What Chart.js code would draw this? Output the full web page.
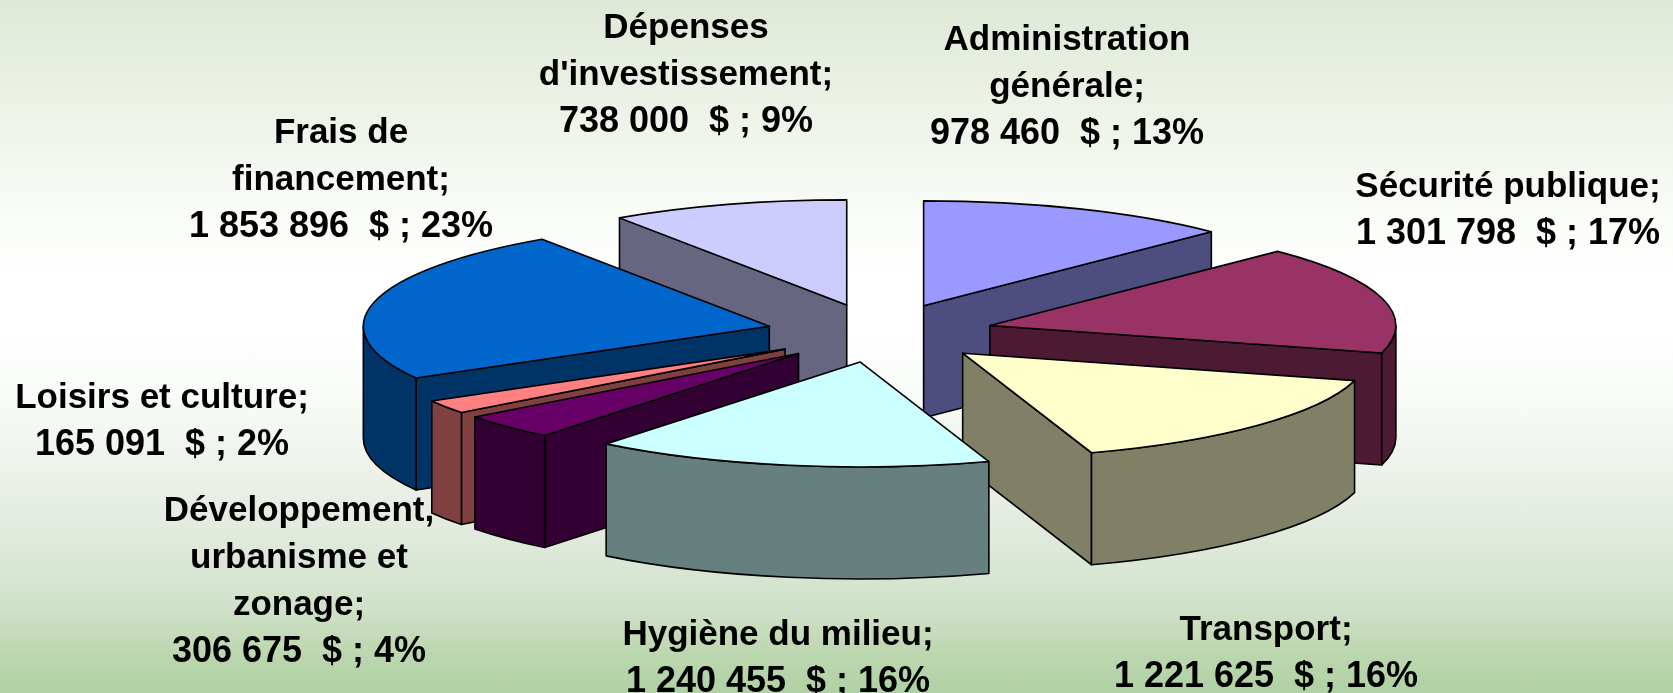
<!DOCTYPE html>
<html lang="fr">
<head>
<meta charset="utf-8">
<title>Dépenses</title>
<script src="https://cdn.jsdelivr.net/npm/chart.js@4"></script>
<style>
    html, body { margin: 0; padding: 0; }
    #wrap {
        width: 1673px; height: 693px;
        background: linear-gradient(to bottom, #dfe9d7 0%, #fbfdf9 33%, #ffffff 40%, #ffffff 48%, #f7fbf6 58%, #eaf0e8 70%, #dde8d8 80%, #cfe1c8 88%, #bdd7b0 94%, #afd1a3 100%);
    }
    canvas { display: block; }
</style>
</head>
<body>
<div id="wrap"><canvas id="pie" width="1673" height="693"></canvas></div>
<script>
// =====================================================
// DATA
// =====================================================
const categories = [
    ["Administration", "générale;"],
    ["Sécurité publique;"],
    ["Transport;"],
    ["Hygiène du milieu;"],
    ["Développement,", "urbanisme et", "zonage;"],
    ["Loisirs et culture;"],
    ["Frais de", "financement;"],
    ["Dépenses", "d'investissement;"]
];
const amounts = [978460, 1301798, 1221625, 1240455, 306675, 165091, 1853896, 738000];
const percents = [13, 17, 16, 16, 4, 2, 23, 9];
const colors = ["#9999FF", "#993366", "#FFFFCC", "#CCFFFF", "#660066", "#FF8080", "#0066CC", "#CCCCFF"];

// =====================================================
// 3D LOOK
// =====================================================
const RX = 406;          // ellipse half width
const RY = 105;          // ellipse half height
const DEPTH = 112;       // wall height
const EXPLODE = 0.28;    // share of the radius each slice is pulled out

// label anchor: centre x, centre y of first line
const labelPos = [
    [1067, 40], [1508, 187], [1266, 630], [778, 635],
    [299, 511], [162, 398], [341, 133], [686, 28]
];
const LINE_H = 47;

function darken(hex) {
    const n = parseInt(hex.slice(1), 16);
    const c = [n >> 16, (n >> 8) & 255, n & 255].map(v => Math.round(v / 2));
    return `rgb(${c.join(",")})`;
}

function moneyText(i) {
    const s = String(amounts[i]).replace(/\B(?=(\d{3})+$)/g, " ");
    return `${s}  $ ; ${percents[i]}%`;
}

// =====================================================
// SLICE DRAWING
// =====================================================
function paint(ctx, fill, buildPath) {
    ctx.beginPath();
    buildPath();
    ctx.closePath();
    ctx.fillStyle = fill;
    ctx.fill();
    ctx.stroke();
}

function drawSlice(ctx, arc, color) {
    const a0 = arc.startAngle;
    const a1 = arc.endAngle;
    const mid = (a0 + a1) / 2;
    const cx = arc.x + Math.cos(mid) * EXPLODE * RX;
    const cy = arc.y + Math.sin(mid) * EXPLODE * RY;
    const side = darken(color);
    const rimX = a => cx + Math.cos(a) * RX;
    const rimY = a => cy + Math.sin(a) * RY;

    const cutWall = a => paint(ctx, side, () => {
        ctx.moveTo(cx, cy);
        ctx.lineTo(rimX(a), rimY(a));
        ctx.lineTo(rimX(a), rimY(a) + DEPTH);
        ctx.lineTo(cx, cy + DEPTH);
    });

    // only the walls that face the viewer
    if (Math.cos(a0) < -1e-6) cutWall(a0);
    if (Math.cos(a1) > 1e-6) cutWall(a1);

    // outer rim, front half of the ellipse only
    let lo = Math.max(a0, 0), hi = Math.min(a1, Math.PI);
    if (hi > lo) {
        paint(ctx, side, () => {
            ctx.ellipse(cx, cy, RX, RY, 0, lo, hi);
            ctx.lineTo(rimX(hi), rimY(hi) + DEPTH);
            ctx.ellipse(cx, cy + DEPTH, RX, RY, 0, hi, lo, true);
        });
    }

    // top face
    paint(ctx, color, () => {
        ctx.moveTo(cx, cy);
        ctx.ellipse(cx, cy, RX, RY, 0, a0, a1);
    });
}

const pie3d = {
    id: "pie3d",
    beforeDatasetsDraw(chart) {
        const ctx = chart.ctx;
        const arcs = chart.getDatasetMeta(0).data;
        // back to front
        const order = arcs.map((a, i) => i).sort((p, q) => {
            const sp = Math.sin((arcs[p].startAngle + arcs[p].endAngle) / 2);
            const sq = Math.sin((arcs[q].startAngle + arcs[q].endAngle) / 2);
            return sp - sq;
        });
        ctx.save();
        ctx.strokeStyle = "#000";
        ctx.lineWidth = 1.6;
        ctx.lineJoin = "round";
        order.forEach(i => drawSlice(ctx, arcs[i], colors[i]));
        ctx.restore();
        return false; // flat arcs are replaced by the extruded ones
    },
    afterDraw(chart) {
        const ctx = chart.ctx;
        ctx.save();
        ctx.fillStyle = "#000";
        ctx.textAlign = "center";
        ctx.textBaseline = "middle";
        categories.forEach((lines, i) => {
            const [x, y] = labelPos[i];
            ctx.font = 'bold 35px "Liberation Sans", Arial, sans-serif';
            lines.forEach((t, k) => ctx.fillText(t, x, y + k * LINE_H));
            ctx.font = 'bold 36px "Liberation Sans", Arial, sans-serif';
            ctx.fillText(moneyText(i), x, y + lines.length * LINE_H);
        });
        ctx.restore();
    }
};

// =====================================================
// CHART
// =====================================================
new Chart(document.getElementById("pie"), {
    type: "pie",
    data: {
        labels: categories.map(c => c.join(" ")),
        datasets: [{ data: amounts, backgroundColor: colors, borderWidth: 0 }]
    },
    options: {
        responsive: false,
        animation: false,
        layout: { padding: { left: 87, bottom: 27 } },
        plugins: {
            legend: { display: false },
            tooltip: { enabled: false }
        }
    },
    plugins: [pie3d]
});
</script>
</body>
</html>
